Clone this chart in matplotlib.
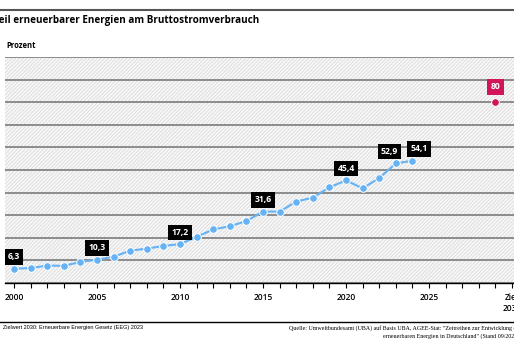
import matplotlib
matplotlib.use("Agg")
import matplotlib.pyplot as plt
from matplotlib.patches import Rectangle
from matplotlib.lines import Line2D

years = list(range(2000, 2025))
values = [6.3, 6.6, 7.7, 7.6, 9.3, 10.3, 11.6, 14.3, 15.2, 16.4, 17.2, 20.4, 23.7,
          25.1, 27.4, 31.6, 31.6, 36.0, 37.8, 42.3, 45.4, 41.9, 46.4, 52.9, 54.1]
label_years = [2000, 2005, 2010, 2015, 2020, 2023, 2024]
label_texts = ["6,3", "10,3", "17,2", "31,6", "45,4", "52,9", "54,1"]
label_dx = [0, 0, 0, 0, 0, -4.5, 5]
target_x = 2029
target_value = 80
target_text = "80"
tick_positions = [2000, 2005, 2010, 2015, 2020, 2025, 2030]
tick_labels = ["2000", "2005", "2010", "2015", "2020", "2025", "Ziel\n2030"]

W, H = 514, 352
plt.rcParams['hatch.linewidth'] = 0.45
plt.rcParams['font.family'] = ['Open Sans', 'DejaVu Sans']
fig = plt.figure(figsize=(W/100, H/100), dpi=100)

ax = fig.add_axes([5/W, 1-283/H, (W-5)/W, (283-57)/H])
x0 = 2000 - 9/16.6
x1 = 2000 + (W-14)/16.6
ax.set_xlim(x0, x1)
ax.set_ylim(0, 100)
ax.add_patch(Rectangle((0, 0), 1, 1, transform=ax.transAxes, facecolor='#f7f7f7',
                       edgecolor='#d2d2d2', hatch='/////////', linewidth=0, zorder=0))
ax.set_yticks(range(0, 101, 10))
ax.yaxis.grid(True, color='#8c8c8c', lw=1.4, zorder=1)
ax.set_axisbelow(True)
for s in ['left', 'right', 'top']:
    ax.spines[s].set_visible(False)
ax.spines['bottom'].set_color('black')
ax.spines['bottom'].set_linewidth(1.0)
ax.spines['bottom'].set_zorder(2)
ax.tick_params(axis='y', left=False, labelleft=False)
ax.set_xticks(range(2000, 2031), minor=True)
ax.set_xticks(tick_positions)
ax.set_xticklabels(tick_labels, fontsize=6, fontweight='semibold', va='top')
ax.tick_params(axis='x', which='both', length=3.5, width=0.8, color='black', pad=4)

ax.plot(years, values, color='#66b2f4', lw=1.5, marker='o', ms=5.5,
        mec='white', mew=0.7, zorder=3, clip_on=False)
for yr, txt, dx in zip(label_years, label_texts, label_dx):
    v = values[years.index(yr)]
    ax.annotate(txt, (yr, v), xytext=(dx, 8.5), textcoords='offset points',
                ha='center', va='center', color='white', fontweight='bold', fontsize=6.2,
                bbox=dict(boxstyle='square,pad=0.38', fc='black', ec='none'), zorder=5)

ax.plot([target_x], [target_value], 'o', color='#d2145a', ms=5.5, mec='white', mew=0.7, zorder=4)
ax.annotate(target_text, (target_x, target_value), xytext=(0, 11), textcoords='offset points',
            ha='center', va='center', color='white', fontweight='bold', fontsize=6.2,
            bbox=dict(boxstyle='square,pad=0.38', fc='#d2145a', ec='none'), zorder=5)

# header
fig.add_artist(Line2D([0, 1], [1-10/H, 1-10/H], color='#555555', lw=1.5))
fig.text(259/W, 1-20/H, "Anteil erneuerbarer Energien am Bruttostromverbrauch",
         ha='right', va='center', fontsize=7.1, fontweight='bold')
fig.text(6/W, 1-46/H, "Prozent", ha='left', va='center', fontsize=5.5, fontweight='bold')

# footer
fig.add_artist(Line2D([0, 1], [1-322/H, 1-322/H], color='black', lw=1.0))
fig.text(3/W, 1-328/H, "Zielwert 2030: Erneuerbare Energien Gesetz (EEG) 2023",
         ha='left', va='center', fontsize=4, family=['Liberation Sans Narrow', 'Liberation Sans'])
fig.text(289/W, 1-328/H,
         'Quelle: Umweltbundesamt (UBA) auf Basis UBA, AGEE-Stat: "Zeitreihen zur Entwicklung der',
         ha='left', va='center', fontsize=4.3, family='Liberation Serif')
fig.text(383/W, 1-336/H,
         'erneuerbaren Energien in Deutschland" (Stand 09/2025)',
         ha='left', va='center', fontsize=4.3, family='Liberation Serif')

fig.savefig("out.png", dpi=100)
